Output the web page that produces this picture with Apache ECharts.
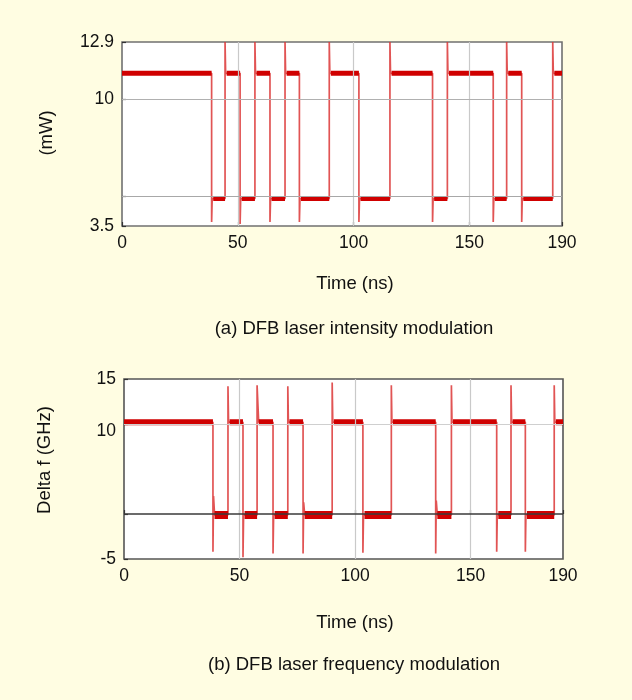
<!DOCTYPE html>
<html>
<head>
<meta charset="utf-8">
<script src="https://cdn.jsdelivr.net/npm/echarts@6/dist/echarts.min.js"></script>
<style>
  html, body { margin: 0; padding: 0; background: #fffde2; }
  #chart { width: 632px; height: 700px; }
</style>
</head>
<body>
<div id="chart"></div>
<script>
// Time axis (ns)
const timeTicks = [0, 50, 100, 150, 190];
const gridTimes = [50, 100, 150];

// (a) Intensity modulation, mW
const intensityLabels = [3.5, 10, 12.9];
const intensityTicks = [3.5, 5, 10, 12.9];
const intensityLevels = [11.3, 4.9];               // [high, low]
const intensityEdges = [38.7, 44.5, 51.0, 57.4, 63.9, 70.4, 76.6, 89.5,
                        102.3, 115.7, 134.1, 140.5, 160.3, 166.1, 172.6, 186.0];
const intensitySpikes = [3.7, 12.9, 3.6, 12.9, 3.7, 12.9, 3.7, 12.9,
                         3.7, 12.9, 3.7, 12.9, 3.7, 12.9, 3.7, 12.9];
const intensityRinging = [4.9, 11.3, 4.9, 11.3, 4.9, 11.3, 4.9, 11.3,
                          4.9, 11.3, 4.9, 11.3, 4.9, 11.3, 4.9, 11.3];

// (b) Frequency modulation, GHz
const freqLabels = [-5, 10, 15];
const freqTicks = [-5, 0, 10, 15];
const freqLevels = [10.2, -0.1];                    // [high, low]
const freqEdges = [38.5, 45.0, 51.5, 57.6, 64.5, 70.9, 77.5, 90.1,
                   103.4, 115.7, 134.9, 141.7, 161.3, 167.5, 173.7, 186.2];
const freqSpikes = [-4.2, 14.2, -4.8, 14.3, -4.4, 14.2, -4.4, 14.6,
                    -4.3, 14.3, -4.4, 14.3, -4.2, 14.3, -4.2, 14.3];
const freqRinging = [2.0, 10.2, -0.1, 12.8, -0.1, 10.2, 1.3, 10.2,
                     -0.1, 10.2, 1.5, 10.2, -0.1, 10.2, -0.1, 10.2];

const T_END = 190;
const RED = '#d00000';

// Thin trace: square wave starting high, each edge with an overshoot spike
// and a short ringing value before settling. Thick segments: the plateaus.
function buildTrace(edges, spikes, ringing, levels) {
  const thin = [];
  const high = [];
  const low = [];
  let isHigh = true;
  let start = 0;
  for (let i = 0; i <= edges.length; i++) {
    const t = i < edges.length ? edges[i] : T_END;
    const lvl = isHigh ? levels[0] : levels[1];
    (isHigh ? high : low).push([start, lvl], [t, lvl], [t, null]);
    thin.push([start, lvl], [t, lvl]);
    if (i === edges.length) break;
    const next = isHigh ? levels[1] : levels[0];
    thin.push([t, spikes[i]], [t + 0.25, ringing[i]], [t + 0.7, next]);
    isHigh = !isHigh;
    start = t + 0.7;
  }
  return { thin, high, low };
}

const traceA = buildTrace(intensityEdges, intensitySpikes, intensityRinging, intensityLevels);
const traceB = buildTrace(freqEdges, freqSpikes, freqRinging, freqLevels);

const FONT = 'Liberation Sans, Arial, sans-serif';
const labelStyle = { color: '#111', fontSize: 17.5, fontFamily: FONT };

function xAxisFor(gridIndex) {
  return {
    type: 'value', gridIndex, min: 0, max: 190,
    axisLine: { show: false },
    axisTick: { inside: true, length: 4, customValues: timeTicks, lineStyle: { color: '#333', width: 1.2 } },
    axisLabel: Object.assign({ customValues: timeTicks, margin: 8 }, labelStyle),
    splitLine: { show: false }
  };
}
function yAxisFor(gridIndex, min, max, labels, ticks, formatter, rich) {
  return {
    type: 'value', gridIndex, min, max,
    axisLine: { show: false },
    axisTick: { inside: true, length: 4, customValues: ticks, lineStyle: { color: '#333', width: 1.2 } },
    axisLabel: Object.assign({ customValues: labels, margin: 8, formatter, rich }, labelStyle),
    splitLine: { show: false }
  };
}

function gridLines(axisIdx, hLines) {
  const data = gridTimes.map(t => ({ xAxis: t, lineStyle: { color: '#c9c9c9', width: 1.2, type: 'solid' } }))
    .concat(hLines);
  return {
    type: 'line', xAxisIndex: axisIdx, yAxisIndex: axisIdx, data: [], z: 1, silent: true,
    markLine: { silent: true, symbol: 'none', label: { show: false }, animation: false, data }
  };
}

function traceSeries(axisIdx, trace, widths) {
  const common = { type: 'line', xAxisIndex: axisIdx, yAxisIndex: axisIdx, showSymbol: false,
                   symbol: 'none', connectNulls: false, animation: false, silent: true, z: 3 };
  return [
    Object.assign({}, common, { data: trace.thin, lineStyle: { color: '#dc3636', width: 1.7, opacity: 0.85 } }),
    Object.assign({}, common, { data: trace.high, lineStyle: { color: RED, width: widths[0] }, z: 4 }),
    Object.assign({}, common, { data: trace.low, lineStyle: { color: RED, width: widths[1] }, z: 4 })
  ];
}

const textStyle = (text, x, y, rot) => ({
  type: 'text', x, y, rotation: rot || 0, silent: true,
  style: { text, fill: '#111', font: '18.5px ' + FONT, align: 'center', verticalAlign: 'middle' }
});

const chart = echarts.init(document.getElementById('chart'), null, { renderer: 'canvas' });
chart.setOption({
  backgroundColor: '#fffde2',
  animation: false,
  grid: [
    { left: 122, top: 42, width: 440, height: 184, show: true, backgroundColor: '#ffffff',
      borderColor: '#707070', borderWidth: 1.6 },
    { left: 124, top: 379, width: 439, height: 180, show: true, backgroundColor: '#ffffff',
      borderColor: '#555555', borderWidth: 1.6 }
  ],
  xAxis: [xAxisFor(0), xAxisFor(1)],
  yAxis: [
    yAxisFor(0, 3.5, 12.9, intensityLabels, intensityTicks),
    yAxisFor(1, -5, 15, freqLabels, freqTicks,
      v => (v === 10 ? '{lo|10}' : String(v)),
      { lo: { padding: [14, 0, 0, 0], fontSize: 17.5, fontFamily: FONT, color: '#111' } })
  ],
  series: [
    gridLines(0, [
      { yAxis: 10, lineStyle: { color: '#b0b0b0', width: 1.2, type: 'solid' } },
      { yAxis: 5, lineStyle: { color: '#a8a8a8', width: 1.2, type: 'solid' } }
    ]),
    gridLines(1, [
      { yAxis: 10, lineStyle: { color: '#cfcfcf', width: 1.2, type: 'solid' } },
      { yAxis: 0, lineStyle: { color: '#3a3a3a', width: 1.6, type: 'solid' } }
    ]),
    ...traceSeries(0, traceA, [5, 5]),
    ...traceSeries(1, traceB, [6, 8])
  ],
  graphic: [
    textStyle('(mW)', 47, 133, Math.PI / 2),
    textStyle('Time (ns)', 355, 284),
    textStyle('(a) DFB laser intensity modulation', 354, 329),
    textStyle('Delta f (GHz)', 45, 460, Math.PI / 2),
    textStyle('Time (ns)', 355, 623),
    textStyle('(b) DFB laser frequency modulation', 354, 665)
  ]
});
</script>
</body>
</html>
